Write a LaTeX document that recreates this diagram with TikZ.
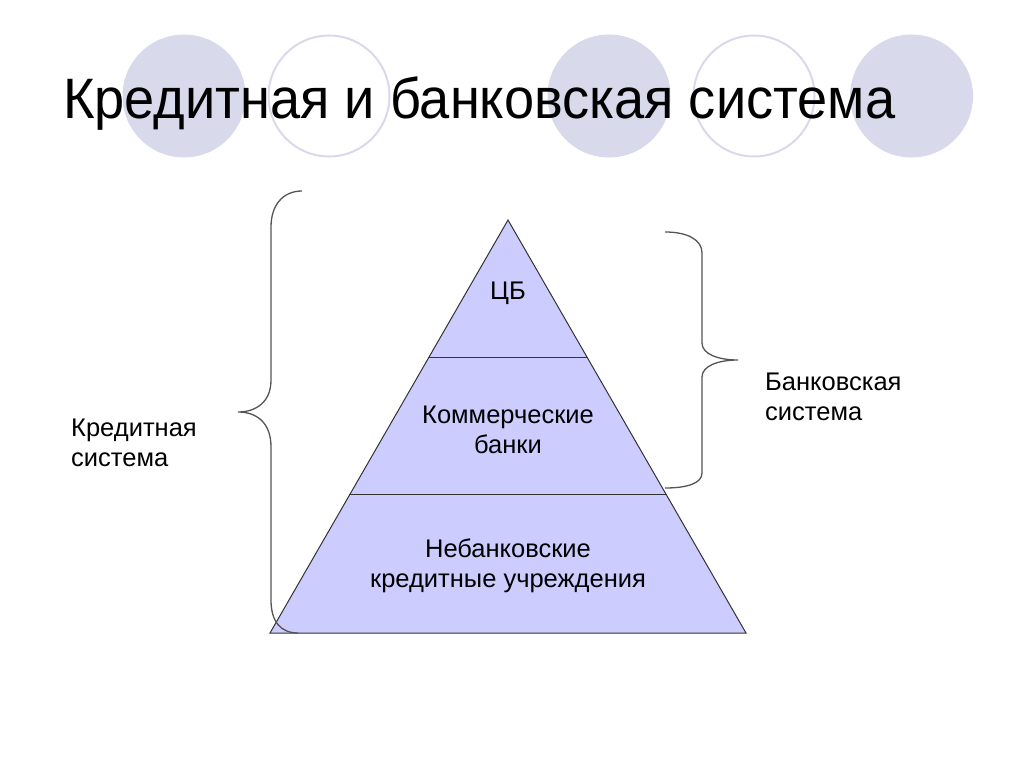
\documentclass[tikz,border=0pt]{standalone}
\usepackage{fontspec}
\setmainfont{Liberation Sans}
\newfontfamily\titlefont[FakeStretch=0.95]{Liberation Sans}
\definecolor{lav}{RGB}{217,217,236}
\definecolor{pyr}{RGB}{204,204,255}
\definecolor{brc}{RGB}{85,85,85}
\begin{document}
\begin{tikzpicture}[x=1pt,y=-1pt,
  fcirc/.style={fill=lav,draw=none},
  ocirc/.style={draw=lav,line width=2pt,fill=white},
  lbl/.style={font=\fontsize{25.5}{29.5}\selectfont,align=center,inner sep=0pt},
  side/.style={font=\fontsize{25.5}{30}\selectfont,align=left,inner sep=0pt,anchor=north west},
  brace/.style={draw=brc,line width=1.3pt},
  pyrline/.style={draw=black!80,line width=1pt}]
\useasboundingbox (0,0) rectangle (1024,768);
% decorative circles
\fill[fcirc] (184,96) ellipse [x radius=61.5,y radius=61.5];
\draw[ocirc] (329,96) ellipse [x radius=60.5,y radius=60.5];
\fill[fcirc] (609,96) ellipse [x radius=61.5,y radius=61.5];
\draw[ocirc] (754,96) ellipse [x radius=60.5,y radius=60.5];
\fill[fcirc] (911.5,96) ellipse [x radius=61.5,y radius=61.5];
% title
\node[anchor=base west,inner sep=0pt,font=\titlefont\fontsize{57}{68}\selectfont] (title) at (63,118) {Кредитная и банковская система};
% pyramid
\coordinate (apex) at (508,220);
\coordinate (bl) at (270,633);
\coordinate (br) at (746,633);
\coordinate (l1) at (429,357);
\coordinate (r1) at (587,357);
\coordinate (l2) at (350,494);
\coordinate (r2) at (666,494);
\filldraw[fill=pyr,pyrline] (apex) -- (br) -- (bl) -- cycle;
\draw[pyrline] (l1) -- (r1);
\draw[pyrline] (l2) -- (r2);
\node[lbl] (cb) at (508,293) {ЦБ};
\node[lbl] (kb) at (508,430) {Коммерческие\\банки};
\node[lbl] (nb) at (508,566) {Небанковские\\кредитные учреждения};
% braces
\draw[brace] (302,191) .. controls (283,191) and (271,205) .. (271,227) -- (271,380)
  .. controls (271,402) and (256,412) .. (238,412)
  .. controls (256,412) and (271,422) .. (271,447) -- (271,600)
  .. controls (271,622) and (281,633) .. (298,633);
\draw[brace] (665,232) .. controls (688,232) and (702,240) .. (702,253) -- (702,343)
  .. controls (702,354) and (718,360) .. (738,360)
  .. controls (718,360) and (702,366) .. (702,377) -- (702,473)
  .. controls (702,483) and (688,488) .. (665,488);
\node[side] (ks) at (71,419) {Кредитная\\система};
\node[side] (bs) at (765,373) {Банковская\\система};
\end{tikzpicture}
\end{document}
